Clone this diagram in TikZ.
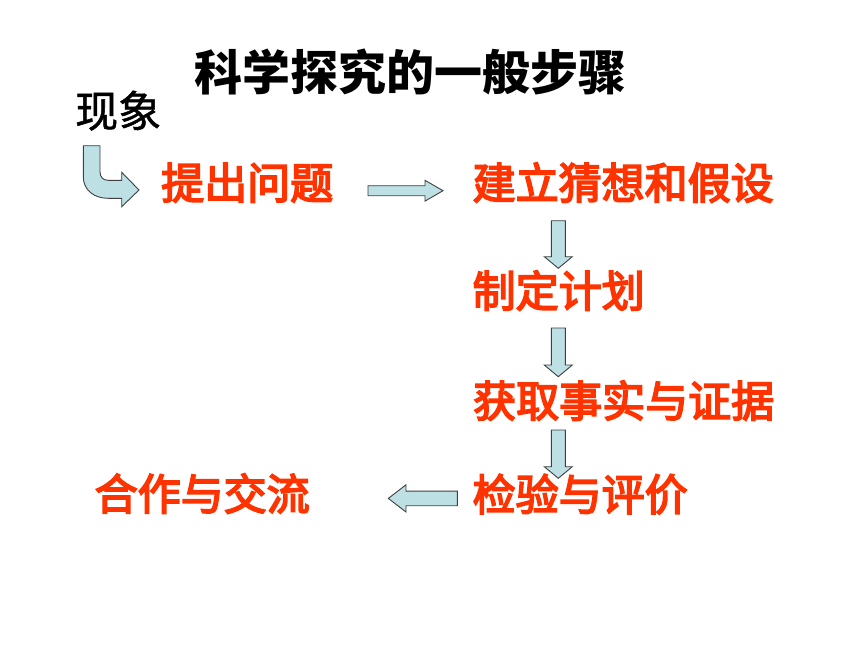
\documentclass[tikz,border=0pt]{standalone}
\usepackage{fontspec}
\newfontfamily\cjk{Noto Sans CJK SC}
\newfontfamily\cjkfb[FakeBold=1.2]{Noto Sans CJK SC}
\newfontfamily\cjkred[FakeBold=4]{Noto Sans CJK SC}
\definecolor{redtxt}{RGB}{255,51,0}
\definecolor{arrowfill}{RGB}{188,224,227}
\definecolor{arrowline}{RGB}{64,64,64}
\tikzset{
  txt/.style={inner sep=0pt, anchor=base west, font=\cjk},
  titletxt/.style={txt, font=\cjk\bfseries\fontsize{48}{56}\selectfont, text=black},
  steptxt/.style={txt, font=\cjkred\fontsize{43}{50}\selectfont, text=redtxt},
  phentxt/.style={txt, font=\cjkfb\fontsize{43}{50}\selectfont, text=black},
  arrowbox/.style={draw=arrowline, fill=arrowfill, line width=0.9pt, line join=miter}
}
\newcommand\downblock[3]{% #1 top coordinate, #2 shaft length, #3 head length
  \draw[arrowbox] (#1) ++(-7,0) -- ++(0,#2) -- ++(-7,0) -- ++(14,#3) -- ++(14,-#3) -- ++(-7,0) -- ++(0,-#2) -- cycle;}
\begin{document}
\begin{tikzpicture}[x=1pt,y=-1pt]
\fill[white] (0,0) rectangle (860,645);
\useasboundingbox (0,0) rectangle (860,645);

\node[titletxt] (title) at (194,90) {科学探究的一般步骤};
\node[phentxt] (phen) at (75,127) {现象};
\node[steptxt] (s1) at (161,199) {提出问题};
\node[steptxt] (s2) at (472.5,199) {建立猜想和假设};
\node[steptxt] (s3) at (472.5,307) {制定计划};
\node[steptxt] (s4) at (473,417) {获取事实与证据};
\node[steptxt] (s5) at (472.5,510.5) {检验与评价};
\node[steptxt] (s6) at (94.5,510) {合作与交流};

% curved arrow from phenomenon to first step
\coordinate (c0) at (83.3,145.7);
\draw[arrowbox] (c0) -- ++(0,31)
  .. controls (83.3,190) and (94,198.3) .. (108,198.3)
  -- (121.7,198.3) -- (121.7,206.7) -- (139,190) -- (121.7,172.3) -- (121.7,180.3)
  -- (108,180.3) .. controls (103,180.3) and (100,177) .. (100,171.7)
  -- (100,145.7) -- cycle;

% right arrow s1 -> s2
\coordinate (r0) at (368,190.7);
\draw[arrowbox] (r0) ++(0,-5) -- ++(57,0) -- ++(0,-5.4) -- ++(18,10.4) -- ++(-18,10.4) -- ++(0,-5.4) -- ++(-57,0) -- cycle;

% down arrows
\coordinate (d1) at (558.3,220.7);
\coordinate (d2) at (558.3,328);
\coordinate (d3) at (558.3,430);
\downblock{d1}{36}{11.6}
\downblock{d2}{37}{11.7}
\downblock{d3}{36.7}{11.6}

% left arrow s5 -> s6
\coordinate (l0) at (457.3,498.4);
\draw[arrowbox] (l0) ++(0,-7.3) -- ++(-51.3,0) -- ++(0,-6.3) -- ++(-17.7,13.6) -- ++(17.7,13.6) -- ++(0,-6.3) -- ++(51.3,0) -- cycle;
\end{tikzpicture}
\end{document}
